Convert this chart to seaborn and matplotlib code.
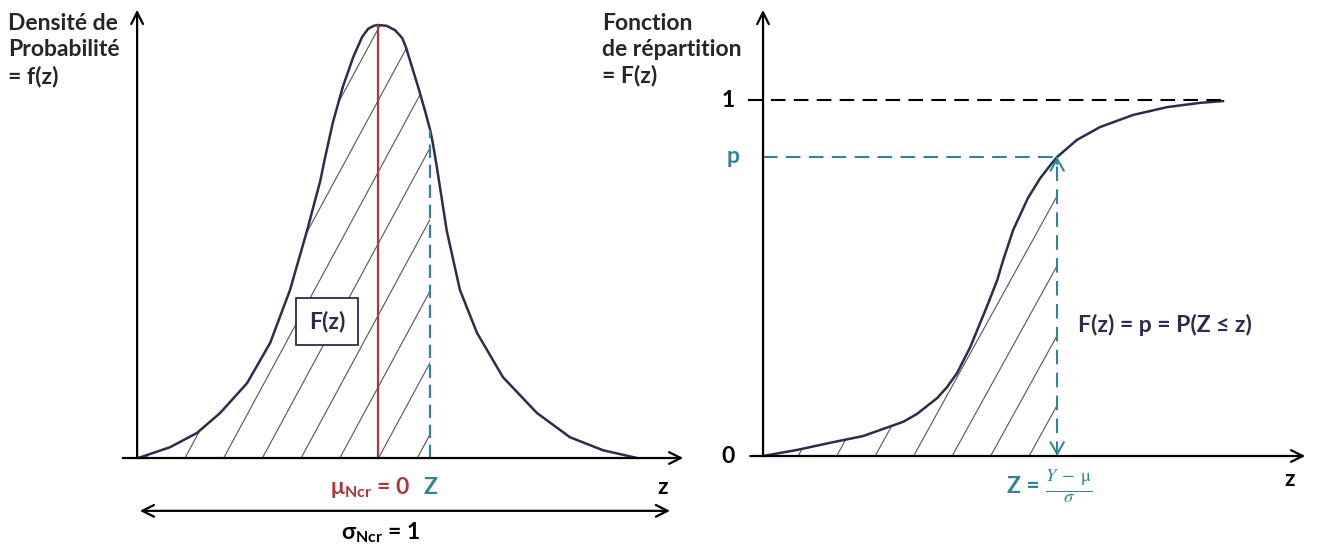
import numpy as np
import pandas as pd
import seaborn as sns
import matplotlib.pyplot as plt
from matplotlib.path import Path

# --- values ----------------------------------------------------------------
# left panel: density f(z), peak scaled to 1
pdf_z = [-4.36, -3.78, -3.29, -2.87, -2.38, -1.96, -1.60, -1.29, -1.05, -0.96,
         -0.82, -0.64, -0.45, -0.29, -0.18, -0.08, 0.00, 0.16, 0.31, 0.44,
         0.51, 0.58, 0.73, 0.85, 0.95, 1.00, 1.07, 1.25, 1.49, 1.80, 2.27,
         2.89, 3.49, 4.09, 4.71]
pdf_f = [0.000, 0.025, 0.058, 0.104, 0.173, 0.266, 0.388, 0.525, 0.640, 0.695,
         0.775, 0.857, 0.926, 0.972, 0.991, 0.998, 1.000, 0.998, 0.988, 0.970,
         0.948, 0.919, 0.857, 0.804, 0.757, 0.725, 0.672, 0.525, 0.388, 0.289,
         0.187, 0.104, 0.048, 0.018, 0.000]
mu_left = 0.0
z_left = 0.95

# right panel: cumulative F(z)
cdf_z = [-4.22, -3.60, -3.00, -2.40, -2.09, -1.67, -1.42, -1.05, -0.87, -0.69,
         -0.45, -0.27, -0.15, 0.04, 0.15, 0.33, 0.60, 0.82, 1.00, 1.13, 1.49,
         1.91, 2.51, 3.13, 3.73, 4.15]
cdf_F = [0.000, 0.017, 0.037, 0.056, 0.073, 0.096, 0.118, 0.163, 0.194, 0.233,
         0.306, 0.374, 0.419, 0.494, 0.551, 0.635, 0.725, 0.780, 0.816, 0.840,
         0.888, 0.924, 0.958, 0.980, 0.992, 0.997]
z_right = 1.13
p_right = 0.84

NAVY = "#2D2B4E"
RED = "#A8393C"
TEAL = "#31849B"
FS = 16.5

sns.set_theme(style="white")
plt.rcParams["font.family"] = ["Lato", "DejaVu Sans"]
plt.rcParams["mathtext.fontset"] = "custom"
plt.rcParams["mathtext.rm"] = "Lato:bold"
plt.rcParams["mathtext.bf"] = "Lato:bold"

W, H = 1322, 547
fig = plt.figure(figsize=(W / 100, H / 100), dpi=100)
axl = fig.add_axes([0, 0, 700 / W, 1])
axr = fig.add_axes([700 / W, 0, 622 / W, 1])
axl.set(xlim=(-6.873, 5.855), ylim=(-0.2055, 1.0577))
axr.set(xlim=(-5.364, 5.945), ylim=(-0.2556, 1.2809))
for ax in (axl, axr):
    ax.set_axis_off()

AX_ARROW = dict(arrowstyle="->,head_length=0.7,head_width=0.35", lw=1.6,
                color="black", shrinkA=0, shrinkB=0)


def hatch(ax, zs, ys, z_stop, x0, spacing, slope):
    # diagonal hatching clipped to the area under the curve up to z_stop
    zs = np.asarray(zs)
    ys = np.asarray(ys)
    keep = zs < z_stop
    y_stop = np.interp(z_stop, zs, ys)
    px = np.r_[zs[keep], z_stop, z_stop, zs[0]]
    py = np.r_[ys[keep], y_stop, 0, 0]
    clip = Path(np.column_stack([px, py]))
    for k in range(-12, 12):
        s = x0 + k * spacing
        ln, = ax.plot([s, s + 5], [0, 5 * slope], color="#555555", lw=0.8)
        ln.set_clip_path(clip, transform=ax.transData)


# ---------------- left: density ----------------
pdf_df = pd.DataFrame({"z": pdf_z, "f": pdf_f})
hatch(axl, pdf_z, pdf_f, z_left, -3.51, 0.704, 0.235)
sns.lineplot(data=pdf_df, x="z", y="f", ax=axl, color=NAVY, lw=1.8,
             sort=False, estimator=None)
axl.plot([mu_left, mu_left], [0, max(pdf_f)], color=RED, lw=1.6)
axl.plot([z_left, z_left], [0, np.interp(z_left, pdf_z, pdf_f)], color=TEAL,
         lw=1.6, ls=(0, (6, 3)))

axl.annotate("", xy=(-4.38, 1.035), xytext=(-4.38, 0), arrowprops=AX_ARROW)
axl.annotate("", xy=(5.55, 0), xytext=(-4.64, 0), arrowprops=AX_ARROW)
axl.annotate("", xy=(5.31, -0.122), xytext=(-4.33, -0.122),
             arrowprops=dict(AX_ARROW, arrowstyle="<->,head_length=0.7,head_width=0.35"))

axl.text(-0.93, 0.316, "F(z)", ha="center", va="center", fontsize=FS,
         fontweight="bold", color=NAVY,
         bbox=dict(boxstyle="square,pad=0.55", fc="white", ec=NAVY, lw=1.3))
axl.text(-0.15, -0.067, r"μ$_{\mathbf{Ncr}}$ = 0", ha="center", va="center",
         fontsize=FS, fontweight="bold", color=RED)
axl.text(z_left, -0.067, "Z", ha="center", va="center", fontsize=FS,
         fontweight="bold", color=TEAL)
axl.text(5.18, -0.067, "z", ha="center", va="center", fontsize=FS,
         fontweight="bold", color="black")
axl.text(0.04, -0.173, r"σ$_{\mathbf{Ncr}}$ = 1", ha="center", va="center",
         fontsize=FS, fontweight="bold", color="black")

fig.text(8 / W, 1 - 13 / H, "Densité de\nProbabilité\n= f(z)", ha="left",
         va="top", fontsize=FS, fontweight="bold", linespacing=1.32)
fig.text(602 / W, 1 - 13 / H, "Fonction\nde répartition\n= F(z)", ha="left",
         va="top", fontsize=FS, fontweight="bold", linespacing=1.28)

# ---------------- right: cumulative ----------------
cdf_df = pd.DataFrame({"z": cdf_z, "F": cdf_F})
hatch(axr, cdf_z, cdf_F, z_right, -2.18, 0.70, 0.28)
sns.lineplot(data=cdf_df, x="z", y="F", ax=axr, color=NAVY, lw=1.8,
             sort=False, estimator=None)

axr.annotate("", xy=(-4.218, 1.253), xytext=(-4.218, 0), arrowprops=AX_ARROW)
axr.annotate("", xy=(5.64, 0), xytext=(-4.45, 0), arrowprops=AX_ARROW)
axr.plot([-4.50, max(cdf_z)], [1, 1], color="black", lw=1.5, ls=(0, (7, 4)))
axr.plot([-4.218, z_right], [p_right, p_right], color=TEAL, lw=1.5,
         ls=(0, (7, 4)))
axr.plot([z_right, z_right], [0, p_right], color=TEAL, lw=1.5, ls=(0, (7, 4)))
TEAL_HEAD = dict(arrowstyle="->,head_length=0.7,head_width=0.4", lw=1.5,
                 color=TEAL, shrinkA=0, shrinkB=0)
axr.annotate("", xy=(z_right, p_right), xytext=(z_right, p_right - 0.02),
             arrowprops=TEAL_HEAD)
axr.annotate("", xy=(z_right, 0.0), xytext=(z_right, 0.02),
             arrowprops=TEAL_HEAD)

axr.text(-4.73, 1, "1", ha="right", va="center", fontsize=FS,
         fontweight="bold", color="black")
axr.text(-4.73, 0, "0", ha="right", va="center", fontsize=FS,
         fontweight="bold", color="black")
axr.text(-4.65, p_right, "p", ha="right", va="center", fontsize=FS,
         fontweight="bold", color=TEAL)
axr.text(1.51, 0.368, "F(z) = p = P(Z ≤ z)", ha="left", va="center",
         fontsize=FS, fontweight="bold", color=NAVY)
axr.text(5.36, -0.067, "z", ha="center", va="center", fontsize=FS,
         fontweight="bold", color="black")
axr.text(0.82, -0.085, "Z =", ha="right", va="center", fontsize=FS,
         fontweight="bold", color=TEAL)
axr.text(0.90, -0.085, r"$\frac{Y\;-\;\mathrm{\mu}}{\sigma}$", ha="left",
         va="center", fontsize=19, color=TEAL, math_fontfamily="stix")

fig.savefig("out.png", dpi=100, facecolor="white")
